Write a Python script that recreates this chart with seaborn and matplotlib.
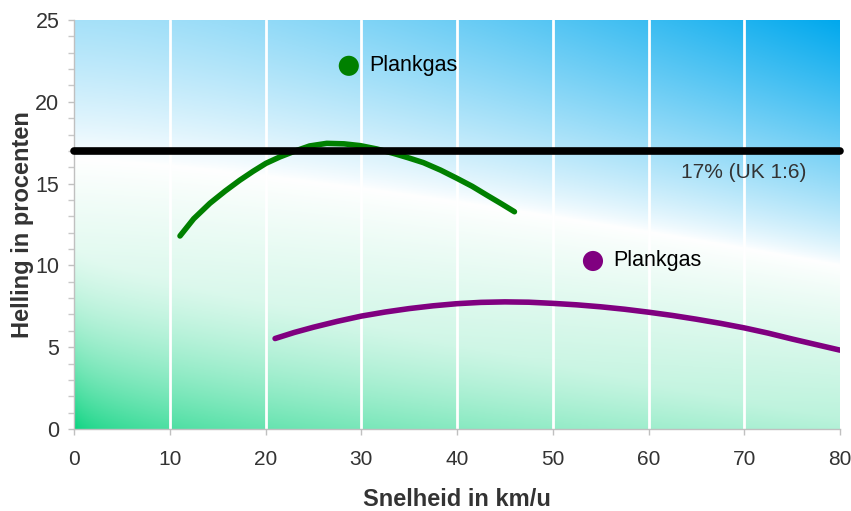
import numpy as np
import pandas as pd
import matplotlib
matplotlib.use("Agg")
import matplotlib.pyplot as plt
import seaborn as sns
from matplotlib.ticker import MultipleLocator

# ---- data ----
green_x = [11.07, 12.5, 14.2, 15.8, 17.3, 18.7, 20.05, 21.5, 22.9, 24.6, 26.4, 28.2, 29.9,
           31.6, 33.35, 34.9, 36.5, 38.3, 40.0, 41.6, 43.1, 44.6, 46.0]
green_y = [11.8, 12.85, 13.8, 14.55, 15.2, 15.75, 16.24, 16.63, 16.95, 17.3, 17.46, 17.43, 17.32,
           17.12, 16.85, 16.58, 16.28, 15.82, 15.32, 14.83, 14.3, 13.78, 13.28]
purple_x = [21, 23, 25, 27.5, 30, 32.5, 35, 37.5, 40, 42.5, 45, 47.5, 50, 52.5, 55, 57.5,
            60, 62.5, 65, 67.5, 70, 72.5, 75, 77.5, 80]
purple_y = [5.53, 5.9, 6.22, 6.58, 6.9, 7.15, 7.36, 7.53, 7.66, 7.74, 7.77, 7.75, 7.68, 7.59,
            7.47, 7.32, 7.14, 6.94, 6.71, 6.46, 6.18, 5.86, 5.5, 5.16, 4.82]
ref_level = 17
ref_label = "17% (UK 1:6)"
marker_labels = ["Plankgas", "Plankgas"]
marker_x = [28.7, 54.2]
marker_y = [22.2, 10.27]
x_ticks = [0, 10, 20, 30, 40, 50, 60, 70, 80]
y_ticks = [0, 5, 10, 15, 20, 25]
x_label = "Snelheid in km/u"
y_label = "Helling in procenten"

sns.set_theme(style="white")
plt.rcParams['font.family'] = ['Liberation Sans', 'DejaVu Sans']

fig = plt.figure(figsize=(8.51, 5.11), dpi=100)
ax = fig.add_axes([74/851, 82/511, 766/851, 409/511])

# ---- background gradient ----
nx, ny = 400, 250
xs = np.linspace(0, 80, nx)
ys = np.linspace(0, 25, ny)
X, Y = np.meshgrid(xs, ys)
yw = 16.5 - 6.5 * (X / 80) ** 1.3
img = np.ones((ny, nx, 3))
B = np.array([0.0, 0.66, 0.93])
G = np.array([0.0, 0.82, 0.48])
above = Y >= yw
d_up = np.clip((Y - yw) / (25 - yw), 0, 1)
s_up = np.clip(d_up ** 0.8 * (0.35 + 0.65 * (X / 80) ** 1.5), 0, 1)
d_dn = np.clip((yw - Y) / yw, 0, 1)
s_dn = np.clip(d_dn ** 2 * (1 - 0.7 * (X / 80) ** 0.4), 0, 1)
s_dn = np.maximum(s_dn, np.clip(d_dn, 0, 1) ** 0.9 * 0.28)
for c in range(3):
    up = 1 - s_up + s_up * B[c]
    dn = 1 - s_dn + s_dn * G[c]
    img[..., c] = np.where(above, up, dn)
ax.imshow(img, extent=[0, 80, 0, 25], origin="lower", aspect="auto", zorder=0)

for xv in x_ticks[1:-1]:
    ax.axvline(xv, color="white", lw=2, zorder=1)

# ---- data marks ----
df_g = pd.DataFrame({"x": green_x, "y": green_y})
df_p = pd.DataFrame({"x": purple_x, "y": purple_y})
sns.lineplot(data=df_g, x="x", y="y", color="#008000", lw=4, ax=ax, zorder=3,
             solid_capstyle="round", sort=False)
sns.lineplot(data=df_p, x="x", y="y", color="#800080", lw=4, ax=ax, zorder=3,
             solid_capstyle="round", sort=False)
ax.plot([0, 80], [ref_level, ref_level], color="black", lw=5.5, zorder=4,
        solid_capstyle="round", clip_on=False)
ax.text(69.9, ref_level - 1.35, ref_label, ha="center", va="center",
        fontsize=15, color="#333333", zorder=5)

df_m = pd.DataFrame({"x": marker_x, "y": marker_y, "lab": marker_labels})
sns.scatterplot(x=df_m["x"].iloc[[0]], y=df_m["y"].iloc[[0]], color="#008000",
                s=210, edgecolor="none", ax=ax, zorder=5)
sns.scatterplot(x=df_m["x"].iloc[[1]], y=df_m["y"].iloc[[1]], color="#800080",
                s=210, edgecolor="none", ax=ax, zorder=5)
for xv, yv, lab in zip(marker_x, marker_y, marker_labels):
    ax.text(xv + 2.1, yv, lab, ha="left", va="center", fontsize=15.5,
            color="black", zorder=5)

# ---- axes ----
ax.set_xlim(0, 80)
ax.set_ylim(0, 25)
ax.set_xticks(x_ticks)
ax.set_yticks(y_ticks)
ax.yaxis.set_minor_locator(MultipleLocator(1))
ax.tick_params(axis="both", which="major", colors="#333333",
               length=4.5, width=1, color="#c0c0c0", direction="out")
ax.tick_params(axis="y", which="major", labelsize=15.5, pad=6)
ax.tick_params(axis="x", which="major", labelsize=15, pad=10.5)
ax.tick_params(axis="y", which="minor", length=4.5, width=1, color="#c8c8c8",
               direction="out", left=True)
ax.tick_params(bottom=True, left=True)
for sp in ["top", "right"]:
    ax.spines[sp].set_visible(False)
for sp in ["left", "bottom"]:
    ax.spines[sp].set_color("#c0c0c0")
    ax.spines[sp].set_linewidth(1)
ax.set_xlabel(x_label, fontsize=17, fontweight="bold", color="#333333")
ax.set_ylabel(y_label, fontsize=17, fontweight="bold", color="#333333")
ax.xaxis.set_label_coords(0.5, -0.145)
ax.yaxis.set_label_coords(-0.052, 0.5)

fig.savefig("out.png", dpi=100)
